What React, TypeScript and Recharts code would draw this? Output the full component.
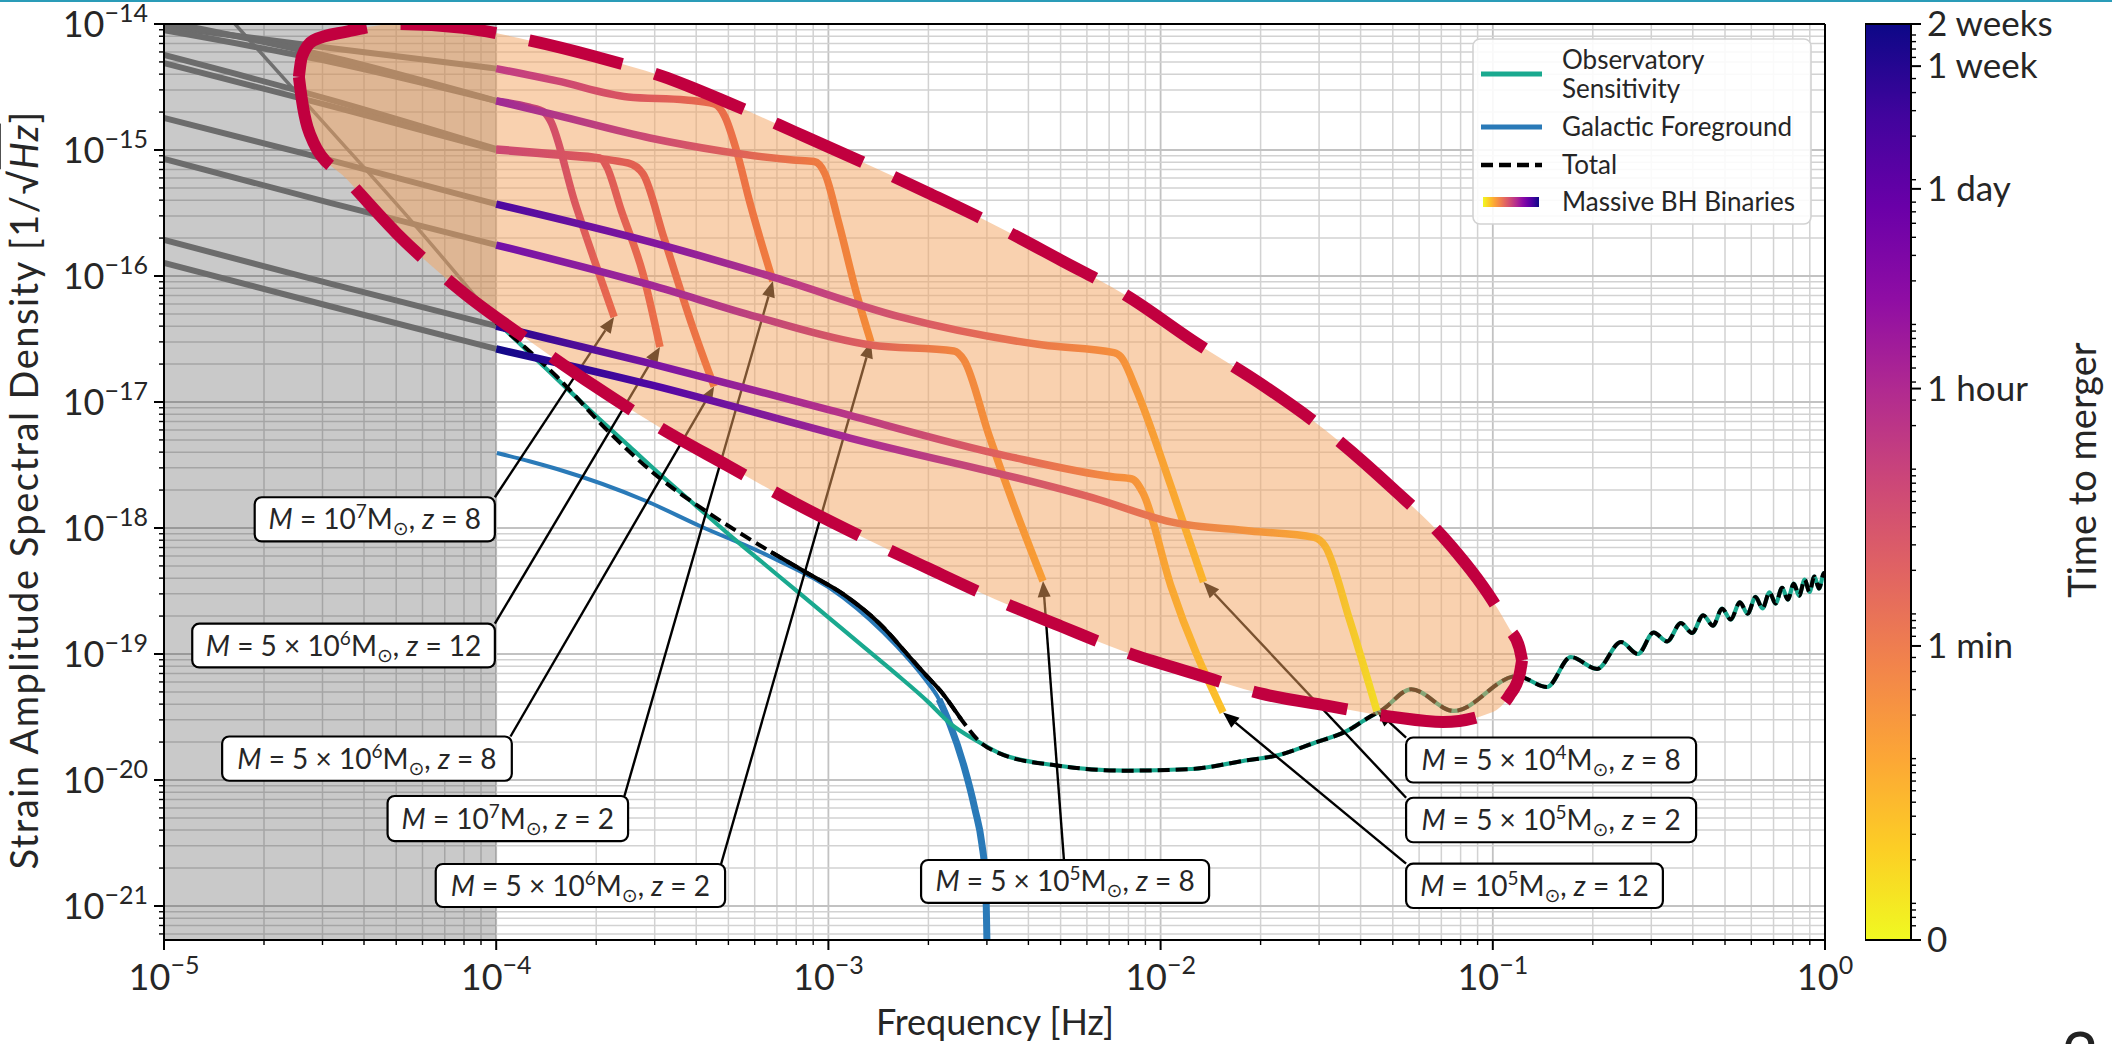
import React from 'react';
import {
  ComposedChart,
  Line,
  Area,
  XAxis,
  YAxis,
  ReferenceLine,
  ReferenceArea,
  BarChart,
  Bar,
} from 'recharts';

type Pt = [number, number];

const FONT = "Lato, 'DejaVu Sans', sans-serif";
const X_MIN = -5;
const X_MAX = 0;
const Y_MIN = -21.27;
const Y_MAX = -14;
const SPLIT = -4; // grey band ends at 1e-4 Hz

// every point: [log10 frequency (Hz), log10 strain ASD (1/sqrt(Hz))]
const sensitivity: Pt[] = [
  [-4.8, -13.96], [-4.5, -14.84], [-4.25, -15.58], [-4.0, -16.36], [-3.9, -16.61],
  [-3.8, -16.86], [-3.7, -17.11], [-3.6, -17.35], [-3.5, -17.59], [-3.4, -17.82],
  [-3.3, -18.05], [-3.2, -18.27], [-3.1, -18.49], [-3.0, -18.71], [-2.9, -18.93],
  [-2.8, -19.15], [-2.7, -19.38], [-2.634, -19.55], [-2.553, -19.69], [-2.474, -19.8],
  [-2.312, -19.885], [-2.11, -19.926], [-1.908, -19.913], [-1.752, -19.849], [-1.641, -19.8],
  [-1.538, -19.706], [-1.439, -19.611], [-1.376, -19.508], [-1.331, -19.44], [-1.246, -19.28],
  [-1.117, -19.452], [-0.927, -19.175], [-0.837, -19.262], [-0.765, -19.024], [-0.686, -19.119],
  [-0.614, -18.905], [-0.563, -19.0], [-0.516, -18.83], [-0.475, -18.9], [-0.434, -18.755],
  [-0.4, -18.833], [-0.367, -18.693], [-0.337, -18.775], [-0.31, -18.64], [-0.284, -18.726],
  [-0.256, -18.59], [-0.233, -18.68], [-0.209, -18.547], [-0.188, -18.638], [-0.167, -18.51],
  [-0.149, -18.6], [-0.129, -18.475], [-0.112, -18.568], [-0.094, -18.442], [-0.078, -18.537],
  [-0.061, -18.41], [-0.047, -18.508], [-0.032, -18.385], [-0.018, -18.481], [-0.003, -18.358],
  [0.0, -18.37],
];

const galactic: Pt[] = [
  [-3.998, -17.405], [-3.9, -17.47], [-3.817, -17.532], [-3.549, -17.786], [-3.387, -17.984],
  [-3.173, -18.23], [-2.956, -18.55], [-2.797, -18.93], [-2.709, -19.2], [-2.667, -19.36],
  [-2.634, -19.56], [-2.592, -19.889], [-2.559, -20.23], [-2.538, -20.508], [-2.527, -20.794],
  [-2.522, -21.4],
];

const totalLow: Pt[] = [
  [-4.0, -16.37], [-3.817, -16.8], [-3.66, -17.24], [-3.516, -17.587], [-3.365, -17.873],
  [-3.173, -18.19], [-3.064, -18.357], [-2.956, -18.524], [-2.848, -18.754], [-2.742, -19.063],
  [-2.709, -19.16], [-2.655, -19.317], [-2.601, -19.516], [-2.547, -19.69], [-2.474, -19.8],
];

const track1e7z2: Pt[] = [
  [-5.0, -14.02], [-4.5, -14.19], [-4.0, -14.354], [-3.817, -14.452], [-3.603, -14.579],
  [-3.429, -14.603], [-3.344, -14.635], [-3.311, -14.738], [-3.278, -14.992], [-3.236, -15.421],
  [-3.167, -16.04],
];
const track1e7z8: Pt[] = [
  [-5.0, -14.05], [-4.5, -14.3], [-4.0, -14.61], [-3.9, -14.66], [-3.859, -14.694],
  [-3.838, -14.762], [-3.763, -15.417], [-3.709, -15.841], [-3.645, -16.325],
];
const track5e6z12: Pt[] = [
  [-5.0, -14.246], [-4.5, -14.6], [-4.0, -14.992], [-3.817, -15.032], [-3.688, -15.063],
  [-3.667, -15.135], [-3.624, -15.476], [-3.558, -15.984], [-3.507, -16.563],
];
const track5e6z8: Pt[] = [
  [-5.0, -14.31], [-4.5, -14.65], [-4.0, -15.0], [-3.817, -15.04], [-3.603, -15.103],
  [-3.558, -15.19], [-3.495, -15.698], [-3.408, -16.41], [-3.344, -16.877],
];
const track5e6z2: Pt[] = [
  [-5.0, -13.98], [-4.5, -14.26], [-4.0, -14.61], [-3.817, -14.726], [-3.537, -14.905],
  [-3.323, -15.008], [-3.107, -15.079], [-3.043, -15.091], [-3.01, -15.19], [-2.968, -15.587],
  [-2.914, -16.151], [-2.872, -16.524],
];
const track5e5z2: Pt[] = [
  [-5.0, -14.746], [-4.5, -15.08], [-4.0, -15.43], [-3.537, -15.73], [-3.161, -16.013],
  [-2.784, -16.325], [-2.354, -16.548], [-2.14, -16.608], [-2.119, -16.643], [-2.074, -16.897],
  [-1.969, -17.667], [-1.871, -18.429],
];
const track5e5z8: Pt[] = [
  [-5.0, -15.071], [-4.5, -15.42], [-4.0, -15.754], [-3.537, -16.071], [-3.215, -16.325],
  [-2.872, -16.548], [-2.622, -16.595], [-2.592, -16.667], [-2.517, -17.262], [-2.441, -17.825],
  [-2.354, -18.421],
];
const track1e5z12: Pt[] = [
  [-5.0, -15.714], [-4.5, -16.06], [-4.0, -16.397], [-3.537, -16.693], [-2.998, -17.063],
  [-2.462, -17.429], [-2.14, -17.595], [-2.086, -17.611], [-2.053, -17.722], [-1.969, -18.46],
  [-1.812, -19.464],
];
const track5e4z8: Pt[] = [
  [-5.0, -15.897], [-4.5, -16.24], [-4.0, -16.579], [-3.537, -16.863], [-2.935, -17.286],
  [-2.182, -17.778], [-1.969, -17.952], [-1.73, -18.024], [-1.538, -18.075], [-1.505, -18.143],
  [-1.43, -18.738], [-1.349, -19.452],
];

const tracks: Pt[][] = [
  track1e7z2, track1e7z8, track5e6z12, track5e6z8, track5e6z2,
  track5e5z2, track5e5z8, track1e5z12, track5e4z8,
];

// colour along each track (time to merger), as [log10 f, colour]
const trackStops: [number, string][][] = [
  [[-4, '#c13c84'], [-3.6, '#da5560'], [-3.33, '#e96c4a'], [-3.167, '#f07c3e']],
  [[-4, '#a02a94'], [-3.86, '#cf4a6c'], [-3.645, '#e9694c']],
  [[-4, '#cc4873'], [-3.67, '#de5a58'], [-3.507, '#ec7048']],
  [[-4, '#cc4873'], [-3.56, '#e3614f'], [-3.344, '#ef7a42']],
  [[-4, '#a02a94'], [-3.5, '#cf4d70'], [-3.05, '#ed7842'], [-2.872, '#f38a38']],
  [[-4, '#4e09a0'], [-3.5, '#86189e'], [-3.1, '#bd3c85'], [-2.6, '#e1655b'], [-2.14, '#f58e3c'], [-1.871, '#fbb42c']],
  [[-4, '#7210a8'], [-3.5, '#a52b94'], [-2.9, '#dc5e5e'], [-2.62, '#f1853f'], [-2.354, '#f89d34']],
  [[-4, '#24068f'], [-3.5, '#7d15a2'], [-3.0, '#b3318b'], [-2.46, '#e1645b'], [-2.1, '#f6903b'], [-1.812, '#fcc22a']],
  [[-4, '#110888'], [-3.5, '#5407a4'], [-2.9, '#ab2d92'], [-2.2, '#e1655b'], [-1.55, '#f9a634'], [-1.349, '#f3db26']],
];

// highlighted region outline
const regionLogF = [
  -4.594, -4.585, -4.55, -4.45, -4.3, -4.1, -3.9, -3.7, -3.5, -3.3, -3.1, -2.9, -2.7,
  -2.5, -2.3, -2.1, -1.9, -1.7, -1.5, -1.3, -1.15, -1.0, -0.95, -0.92, -0.912,
];
const regionLower = [
  -14.42, -14.6, -14.94, -15.23, -15.66, -16.13, -16.515, -16.88, -17.215, -17.51, -17.804, -18.07, -18.32,
  -18.563, -18.78, -18.99, -19.155, -19.313, -19.41, -19.5, -19.54, -19.46, -19.33, -19.17, -19.05,
];
const regionUpper = [
  -14.42, -14.26, -14.13, -14.06, -14.0, -14.03, -14.13, -14.26, -14.415, -14.626, -14.858, -15.094, -15.34,
  -15.595, -15.875, -16.16, -16.52, -16.853, -17.232, -17.69, -18.07, -18.58, -18.8, -18.95, -19.05,
];

// annotation texts
const labelMantissa = ['', '5', '5', '', '5', '5', '5', '5', ''];
const labelExponent = ['7', '6', '6', '7', '6', '5', '4', '5', '5'];
const labelRedshift = ['8', '12', '8', '2', '2', '8', '8', '2', '12'];
const labelTrack = [1, 2, 3, 0, 4, 6, 8, 5, 7];

// annotation box placement (data coords) and arrow start
const labelBoxes = [
  { x1: -4.727, x2: -4.004, y1: -18.107, y2: -17.756, ax: -4.004, ay: -17.756 },
  { x1: -4.915, x2: -4.004, y1: -19.107, y2: -18.759, ax: -4.004, ay: -18.759 },
  { x1: -4.825, x2: -3.953, y1: -20.006, y2: -19.655, ax: -3.957, ay: -19.655 },
  { x1: -4.327, x2: -3.603, y1: -20.485, y2: -20.127, ax: -3.614, ay: -20.127 },
  { x1: -4.182, x2: -3.311, y1: -21.008, y2: -20.667, ax: -3.323, ay: -20.667 },
  { x1: -2.721, x2: -1.854, y1: -20.976, y2: -20.635, ax: -2.291, ay: -20.635 },
  { x1: -1.261, x2: -0.388, y1: -20.02, y2: -19.663, ax: -1.261, ay: -19.663 },
  { x1: -1.261, x2: -0.388, y1: -20.494, y2: -20.141, ax: -1.261, ay: -20.141 },
  { x1: -1.261, x2: -0.488, y1: -21.016, y2: -20.664, ax: -1.261, ay: -20.664 },
];

// colour bar
const cbLabels = ['0', '1 min', '1 hour', '1 day', '1 week', '2 weeks'];
const cbMajor = [0, 0.321, 0.602, 0.82, 0.954, 1.0];

const PLASMA = ['#0d0887', '#41049d', '#6a00a8', '#8f0da4', '#b12a90', '#cc4778', '#e16462', '#f2844b', '#fca636', '#fcce25', '#f0f921'];

const xTicks: number[] = [];
for (let d = -5; d < 0; d++) for (let m = 1; m <= 9; m++) xTicks.push(d + Math.log10(m));
xTicks.push(0);

const yTicks: number[] = [];
for (let d = -22; d < -14; d++)
  for (let m = 1; m <= 9; m++) {
    const v = d + Math.log10(m);
    if (v >= Y_MIN && v <= Y_MAX) yTicks.push(v);
  }
yTicks.push(-14);

const cbMinor: number[] = [];
for (let k = -1; k <= 6; k++)
  for (let m = 1; m <= 9; m++) {
    const c = 0.04 + 0.158 * Math.log10(m * Math.pow(10, k));
    if (c > 0.003 && c < 0.997 && cbMajor.every((v) => Math.abs(v - c) > 0.006)) cbMinor.push(c);
  }
const cbTicks = [...cbMajor, ...cbMinor];

const isMajor = (v: number) => Math.abs(v - Math.round(v)) < 1e-9;
const expText = (v: number) => (Math.round(v) === 0 ? '0' : '\u2212' + Math.abs(Math.round(v)));
const rows = (pts: Pt[]) => pts.map(([x, y]) => ({ x, y }));
const greyPart = (pts: Pt[]) => rows(pts.filter((p) => p[0] <= SPLIT));
const colourPart = (pts: Pt[]) => rows(pts.filter((p) => p[0] >= SPLIT));

const totalCurve: Pt[] = [...totalLow, ...sensitivity.filter((p) => p[0] > -2.474)];
const totalNoisy = rows(totalLow.filter((p) => p[0] >= -3.25 && p[0] <= -2.55));
const galacticDrop = rows(galactic.filter((p) => p[0] >= -2.68));
const regionRows = regionLogF.map((x, i) => ({ x, range: [regionLower[i], regionUpper[i]], lo: regionLower[i], hi: regionUpper[i] }));

const XTick = (props: any) => {
  const { x, y, payload } = props;
  const v = payload.value;
  const major = isMajor(v);
  return (
    <g>
      <line x1={x} x2={x} y1={y} y2={y + (major ? 10 : 5)} stroke="#000" strokeWidth={major ? 2 : 1.4} />
      {major && (
        <text x={x} y={y + 50} textAnchor="middle" fontSize={36} fill="#262626" fontFamily={FONT}>
          10<tspan dy={-16} fontSize={25}>{expText(v)}</tspan>
        </text>
      )}
    </g>
  );
};

const YTick = (props: any) => {
  const { x, y, payload } = props;
  const v = payload.value;
  const major = isMajor(v);
  return (
    <g>
      <line x1={x - (major ? 10 : 5)} x2={x} y1={y} y2={y} stroke="#000" strokeWidth={major ? 2 : 1.4} />
      {major && (
        <text x={x - 16} y={y + 13} textAnchor="end" fontSize={36} fill="#262626" fontFamily={FONT}>
          10<tspan dy={-15} fontSize={25}>{expText(v)}</tspan>
        </text>
      )}
    </g>
  );
};

const CbTick = (props: any) => {
  const { x, y, payload } = props;
  const i = cbMajor.indexOf(payload.value);
  const major = i >= 0;
  return (
    <g>
      <line x1={x} x2={x + (major ? 10 : 5)} y1={y} y2={y} stroke="#000" strokeWidth={major ? 2 : 1.4} />
      {major && (
        <text x={x + 16} y={y + 12} fontSize={35} fill="#262626" fontFamily={FONT}>
          {cbLabels[i]}
        </text>
      )}
    </g>
  );
};

const Arrow = (props: any) => {
  const x1 = props.x1 ?? props.points?.[0]?.x;
  const y1 = props.y1 ?? props.points?.[0]?.y;
  const x2 = props.x2 ?? props.points?.[1]?.x;
  const y2 = props.y2 ?? props.points?.[1]?.y;
  if ([x1, y1, x2, y2].some((v) => typeof v !== 'number' || isNaN(v))) return <g />;
  const len = Math.hypot(x2 - x1, y2 - y1) || 1;
  const ux = (x2 - x1) / len;
  const uy = (y2 - y1) / len;
  const hl = 16;
  const hw = 6.5;
  const bx = x2 - ux * hl;
  const by = y2 - uy * hl;
  return (
    <g>
      <line x1={x1} y1={y1} x2={bx} y2={by} stroke="#000" strokeWidth={2.4} />
      <polygon points={`${x2},${y2} ${bx - uy * hw},${by + ux * hw} ${bx + uy * hw},${by - ux * hw}`} fill="#000" />
    </g>
  );
};

const boxShape = (i: number) => (p: any) => {
  const { x, y, width, height } = p;
  const sup = { fontSize: 19 };
  return (
    <g>
      <rect x={x} y={y} width={width} height={height} rx={7} fill="#fff" stroke="#000" strokeWidth={2.2} />
      <text x={x + width / 2} y={y + height / 2 + 10} textAnchor="middle" fontSize={28} fill="#262626" fontFamily={FONT}>
        <tspan fontStyle="italic">M</tspan>
        <tspan> = {labelMantissa[i] ? labelMantissa[i] + ' \u00d7 ' : ''}10</tspan>
        <tspan dy={-11} {...sup}>{labelExponent[i]}</tspan>
        <tspan dy={11}>M</tspan>
        <tspan dy={6} {...sup}>{'\u2299'}</tspan>
        <tspan dy={-6}>, </tspan>
        <tspan fontStyle="italic">z</tspan>
        <tspan> = {labelRedshift[i]}</tspan>
      </text>
    </g>
  );
};

const lineBase = { dataKey: 'y', type: 'monotone' as const, dot: false, activeDot: false, isAnimationActive: false, legendType: 'none' as const };

export default function App() {
  return (
    <div style={{ position: 'absolute', left: 0, top: 0, width: 2112, height: 1044, overflow: 'hidden', background: '#fff', fontFamily: FONT }}>
      <div style={{ position: 'absolute', left: 0, top: 0, width: 2112, height: 2, background: '#2a9cb8' }} />
      <svg width={0} height={0} style={{ position: 'absolute' }}>
        <defs>
          {tracks.map((t, i) => {
            const end = t[t.length - 1][0];
            return (
              <linearGradient key={i} id={`trk${i}`} x1="0" y1="0" x2="1" y2="0">
                {trackStops[i].map(([lx, c], j) => (
                  <stop key={j} offset={Math.min(1, Math.max(0, (lx - SPLIT) / (end - SPLIT)))} stopColor={c} />
                ))}
              </linearGradient>
            );
          })}
          <linearGradient id="cbGrad" x1="0" y1="0" x2="0" y2="1">
            {PLASMA.map((c, i) => (
              <stop key={i} offset={i / (PLASMA.length - 1)} stopColor={c} />
            ))}
          </linearGradient>
          <linearGradient id="legGrad" x1="0" y1="0" x2="1" y2="0">
            {[...PLASMA].reverse().map((c, i) => (
              <stop key={i} offset={i / (PLASMA.length - 1)} stopColor={c} />
            ))}
          </linearGradient>
        </defs>
      </svg>

      <div style={{ position: 'absolute', left: 0, top: 0 }}>
        <ComposedChart width={2112} height={1044} margin={{ top: 24, right: 287, bottom: 44, left: 14 }}>
          <XAxis
            type="number"
            dataKey="x"
            domain={[X_MIN, X_MAX]}
            allowDataOverflow
            ticks={xTicks}
            interval={0}
            tick={(p: any) => <XTick {...p} />}
            tickLine={false}
            tickSize={0}
            tickMargin={0}
            axisLine={{ stroke: '#000', strokeWidth: 2 }}
            height={60}
          />
          <YAxis
            type="number"
            dataKey="y"
            domain={[Y_MIN, Y_MAX]}
            allowDataOverflow
            ticks={yTicks}
            interval={0}
            tick={(p: any) => <YTick {...p} />}
            tickLine={false}
            tickSize={0}
            tickMargin={0}
            axisLine={{ stroke: '#000', strokeWidth: 2 }}
            width={150}
          />

          {xTicks.filter((v) => v > X_MIN && v < X_MAX).map((v) => (
            <ReferenceLine key={`gx${v}`} x={v} stroke={isMajor(v) ? '#c2c2c2' : '#d2d2d2'} strokeWidth={isMajor(v) ? 1.8 : 1.5} zIndex={-50} />
          ))}
          {yTicks.filter((v) => v > Y_MIN && v < Y_MAX).map((v) => (
            <ReferenceLine key={`gy${v}`} y={v} stroke={isMajor(v) ? '#c2c2c2' : '#d2d2d2'} strokeWidth={isMajor(v) ? 1.8 : 1.5} zIndex={-50} />
          ))}

          <ReferenceArea x1={X_MIN} x2={SPLIT} y1={Y_MIN} y2={Y_MAX} fill="#000" fillOpacity={0.21} stroke="none" zIndex={-40} />

          <Line {...lineBase} data={greyPart(sensitivity)} stroke="#707070" strokeWidth={3.5} zIndex={100} />
          {tracks.map((t, i) => (
            <Line key={`g${i}`} {...lineBase} data={greyPart(t)} stroke="#6c6c6c" strokeWidth={6} zIndex={100} />
          ))}

          <Line {...lineBase} data={rows(galactic)} stroke="#2a7ab8" strokeWidth={4} zIndex={100} />
          <Line {...lineBase} data={galacticDrop} stroke="#2a7ab8" strokeWidth={7} zIndex={100} />
          <Line {...lineBase} data={colourPart(sensitivity)} stroke="#1aa98f" strokeWidth={4.2} zIndex={100} />
          <Line {...lineBase} data={rows(totalCurve)} stroke="#000" strokeWidth={4} strokeDasharray="12 6" zIndex={100} />
          <Line {...lineBase} data={totalNoisy} stroke="#000" strokeWidth={4} zIndex={100} />

          {labelBoxes.map((b, i) => {
            const t = tracks[labelTrack[i]];
            const tip = t[t.length - 1];
            return (
              <ReferenceLine
                key={`a${i}`}
                segment={[{ x: b.ax, y: b.ay }, { x: tip[0], y: tip[1] }]}
                shape={Arrow}
                zIndex={150}
              />
            );
          })}

          <Area
            data={regionRows}
            dataKey="range"
            type="monotone"
            stroke="none"
            fill="#f4a460"
            fillOpacity={0.5}
            dot={false}
            activeDot={false}
            isAnimationActive={false}
            legendType="none"
            zIndex={200}
          />

          {tracks.map((t, i) => (
            <Line key={`c${i}`} {...lineBase} data={colourPart(t)} stroke={`url(#trk${i})`} strokeWidth={7.5} zIndex={220} />
          ))}

          <Line {...lineBase} data={regionRows} dataKey="hi" stroke="#c1003f" strokeWidth={12} strokeDasharray="96 34" zIndex={250} />
          <Line {...lineBase} data={regionRows} dataKey="lo" stroke="#c1003f" strokeWidth={12} strokeDasharray="96 34" zIndex={250} />

          {labelBoxes.map((b, i) => (
            <ReferenceArea key={`b${i}`} x1={b.x1} x2={b.x2} y1={b.y1} y2={b.y2} shape={boxShape(i)} zIndex={300} />
          ))}

          <ReferenceLine y={Y_MAX} stroke="#000" strokeWidth={2} zIndex={350} />
          <ReferenceLine x={X_MAX} stroke="#000" strokeWidth={2} zIndex={350} />
        </ComposedChart>
      </div>

      <div style={{ position: 'absolute', left: 1865, top: 0 }}>
        <BarChart width={247} height={1044} data={[{ name: 'time', v: 1 }]} margin={{ top: 24, right: 0, bottom: 104, left: 0 }} barCategoryGap={0}>
          <XAxis dataKey="name" hide />
          <YAxis
            orientation="right"
            type="number"
            domain={[0, 1]}
            ticks={cbTicks}
            interval={0}
            tick={(p: any) => <CbTick {...p} />}
            tickLine={false}
            axisLine={false}
            tickSize={0}
            tickMargin={0}
            width={201}
          />
          <Bar dataKey="v" fill="url(#cbGrad)" stroke="#000" strokeWidth={2} isAnimationActive={false} />
        </BarChart>
      </div>

      <svg width={2112} height={1044} style={{ position: 'absolute', left: 0, top: 0, pointerEvents: 'none' }} fontFamily={FONT}>
        <text transform="translate(38,490) rotate(-90)" textAnchor="middle" fontSize={38} letterSpacing={1.5} fill="#262626">
          Strain Amplitude Spectral Density [1/{'\u221a'}
          <tspan fontStyle="italic" style={{ textDecoration: 'overline' }}>Hz</tspan>]
        </text>
        <text x={995} y={1035} textAnchor="middle" fontSize={36} fill="#262626">
          Frequency [Hz]
        </text>
        <text transform="translate(2096,470) rotate(-90)" textAnchor="middle" fontSize={38} fill="#262626">
          Time to merger
        </text>
        <text x={2080} y={1078} textAnchor="middle" fontSize={64} fill="#222">2</text>

        <g transform="translate(1473,39)">
          <rect x={0} y={0} width={338} height={185} rx={7} fill="#fff" fillOpacity={0.88} stroke="#d2d2d2" strokeWidth={1.6} />
          <line x1={8} x2={69} y1={35} y2={35} stroke="#1aa98f" strokeWidth={5} />
          <text x={89} y={30} fontSize={26} fill="#262626">Observatory</text>
          <text x={89} y={59} fontSize={26} fill="#262626">Sensitivity</text>
          <line x1={8} x2={69} y1={88} y2={88} stroke="#2a7ab8" strokeWidth={5} />
          <text x={89} y={97} fontSize={26} fill="#262626">Galactic Foreground</text>
          <line x1={8} x2={69} y1={126} y2={126} stroke="#000" strokeWidth={4.5} strokeDasharray="12 6" />
          <text x={89} y={135} fontSize={26} fill="#262626">Total</text>
          <rect x={10} y={158} width={56} height={10} fill="url(#legGrad)" />
          <text x={89} y={172} fontSize={26} fill="#262626">Massive BH Binaries</text>
        </g>
      </svg>
    </div>
  );
}
